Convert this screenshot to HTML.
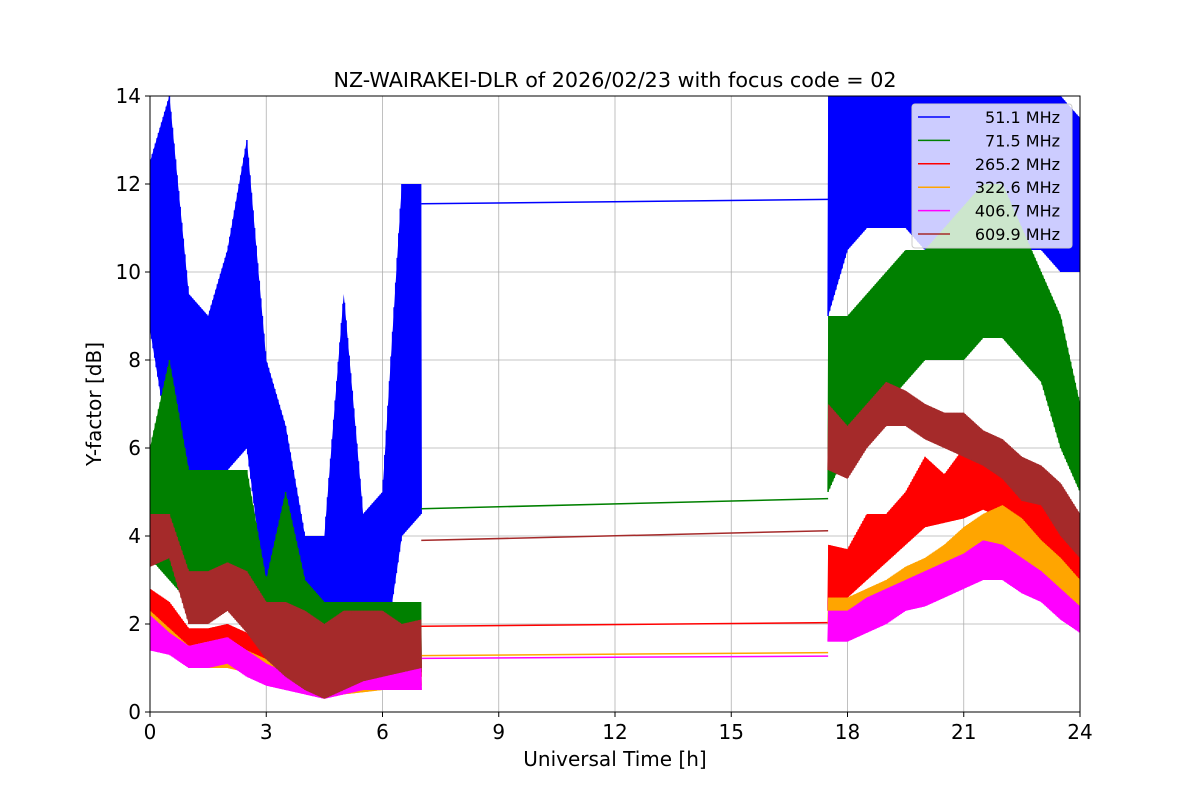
<!DOCTYPE html>
<html><head><meta charset="utf-8"><style>
body{margin:0;background:#fff;}
svg text{font-family:"DejaVu Sans","Liberation Sans",sans-serif;}
</style></head><body>
<svg id="chart" width="1200" height="800">
<defs><clipPath id="plotclip"><rect x="150" y="96" width="930" height="616"/></clipPath></defs>
<rect x="0" y="0" width="1200" height="800" fill="#fff"/>
<text x="615" y="87" text-anchor="middle" font-size="20.7">NZ-WAIRAKEI-DLR of 2026/02/23 with focus code = 02</text>
<g id="grid"></g>
<g id="series" clip-path="url(#plotclip)"></g>
<rect x="150" y="96" width="930" height="616" fill="none" stroke="#000" stroke-width="1"/>
<g id="axes"></g>
<text x="615" y="766" text-anchor="middle" font-size="20">Universal Time [h]</text>
<text transform="translate(101,404) rotate(-90)" text-anchor="middle" font-size="20">Y-factor [dB]</text>
<g id="legend"></g>
</svg>
<script>
const xTicks=[0,3,6,9,12,15,18,21,24];
const yTicks=[0,2,4,6,8,10,12,14];
const seriesNames=["51.1 MHz","71.5 MHz","265.2 MHz","322.6 MHz","406.7 MHz","609.9 MHz"];
const seriesColors=["blue","green","red","orange","magenta","brown"];
const seg1Times=[0,0.5,1,1.5,2,2.5,3,3.5,4,4.5,5,5.5,6,6.5,7];
const seg2Times=[17.5,18,18.5,19,19.5,20,20.5,21,21.5,22,22.5,23,23.5,24];
const blueLo1=[8.7,6,4.5,5,5.5,6,2.5,1.5,1,0.5,0.6,1,1,4,4.5];
const blueHi1=[12.5,14,9.5,9,10.5,13,8,6.5,4,4,9.5,4.5,5,12,12];
const blueLo2=[9,10.5,11,11,11,10.5,11,11,10.5,11,10.5,10.5,10,10];
const blueHi2=[14,14,14,14,14,14,14,14,14,14,14,14,14,13.5];
const greenLo1=[3.5,3,2.5,2.5,2.5,3,1.5,1,1,0.5,0.5,0.7,0.7,0.8,0.9];
const greenHi1=[6,8,5.5,5.5,5.5,5.5,3,5,3,2.5,2.5,2.5,2.5,2.5,2.5];
const greenLo2=[5,6,6.5,7,7.5,8,8,8,8.5,8.5,8,7.5,6,5];
const greenHi2=[9,9,9.5,10,10.5,10.5,11,11.5,12,12,11,10,9,7];
const redLo1=[2,1.6,1.3,1.3,1.4,1.2,0.9,0.8,0.7,0.6,0.6,0.6,0.7,0.7,0.8];
const redHi1=[2.8,2.5,1.9,1.9,2,1.8,1.5,1.4,1.3,1.2,1.2,1.2,1.3,1.3,1.4];
const redLo2=[2.3,2.6,3,3.4,3.8,4.2,4.3,4.4,4.6,4.4,4.1,3.8,3.2,2.5];
const redHi2=[3.8,3.7,4.5,4.5,5,5.8,5.4,6,6.2,5.8,5.5,5,4.5,3.5];
const orangeLo1=[1.6,1.3,1.1,1,1,0.9,0.7,0.6,0.5,0.4,0.4,0.45,0.5,0.55,0.6];
const orangeHi1=[2.3,1.9,1.5,1.6,1.6,1.4,1.2,1.1,1,0.9,0.9,0.95,1,1.05,1.1];
const orangeLo2=[2,2,2.2,2.4,2.6,2.8,3,3.3,3.5,3.6,3.4,3,2.7,2.4];
const orangeHi2=[2.6,2.6,2.8,3,3.3,3.5,3.8,4.2,4.5,4.7,4.4,3.9,3.5,3];
const magentaLo1=[1.4,1.3,1,1,1.1,0.8,0.6,0.5,0.4,0.3,0.4,0.5,0.5,0.5,0.5];
const magentaHi1=[2.2,1.8,1.5,1.6,1.7,1.4,1.1,0.9,0.9,0.8,0.9,0.9,1,1,1.2];
const magentaLo2=[1.6,1.6,1.8,2,2.3,2.4,2.6,2.8,3,3,2.7,2.5,2.1,1.8];
const magentaHi2=[2.3,2.3,2.6,2.8,3,3.2,3.4,3.6,3.9,3.8,3.5,3.2,2.8,2.4];
const brownLo1=[3.3,3.5,2,2,2.3,1.8,1.2,0.8,0.5,0.3,0.5,0.7,0.8,0.9,1];
const brownHi1=[4.5,4.5,3.2,3.2,3.4,3.2,2.5,2.5,2.3,2,2.3,2.3,2.3,2,2.1];
const brownLo2=[5.5,5.3,6,6.5,6.5,6.2,6,5.8,5.6,5.3,4.8,4.7,4,3.5];
const brownHi2=[7,6.5,7,7.5,7.3,7,6.8,6.8,6.4,6.2,5.8,5.6,5.2,4.5];
const gapStart=[11.55,4.62,1.95,1.28,1.22,3.9];
const gapEnd=[11.65,4.85,2.03,1.35,1.27,4.12];

const NS="http://www.w3.org/2000/svg";
const X0=150,X1=1080,Y0=712,Y1=96;
const xs=t=>X0+(t/24)*(X1-X0);
const ys=v=>Y0-(v/14)*(Y0-Y1);
function mk(tag,attrs,parent){const e=document.createElementNS(NS,tag);for(const k in attrs)e.setAttribute(k,attrs[k]);parent.appendChild(e);return e;}
const grid=document.getElementById('grid'),axes=document.getElementById('axes'),ser=document.getElementById('series'),leg=document.getElementById('legend');
xTicks.forEach(t=>{
  const g=mk('line',{x1:xs(t),x2:xs(t),y1:Y1,y2:Y0,stroke:'#b0b0b0','stroke-width':0.8},grid);
  
  
  mk('line',{x1:xs(t),x2:xs(t),y1:Y0,y2:Y0+5,stroke:'#000'},axes);
  const l=mk('text',{x:xs(t),y:Y0+27,'text-anchor':'middle','font-size':20},axes);
  l.textContent=t;
  
  
});
yTicks.forEach(v=>{
  const g=mk('line',{x1:X0,x2:X1,y1:ys(v),y2:ys(v),stroke:'#b0b0b0','stroke-width':0.8},grid);
  
  
  mk('line',{x1:X0-5,x2:X0,y1:ys(v),y2:ys(v),stroke:'#000'},axes);
  const l=mk('text',{x:X0-9,y:ys(v)+7,'text-anchor':'end','font-size':20},axes);
  l.textContent=v;
  
  
});
const lows1=[blueLo1,greenLo1,redLo1,orangeLo1,magentaLo1,brownLo1];
const highs1=[blueHi1,greenHi1,redHi1,orangeHi1,magentaHi1,brownHi1];
const lows2=[blueLo2,greenLo2,redLo2,orangeLo2,magentaLo2,brownLo2];
const highs2=[blueHi2,greenHi2,redHi2,orangeHi2,magentaHi2,brownHi2];
function interp(ts,vals,t){for(let i=0;i<ts.length-1;i++){if(t<=ts[i+1]){const f=(t-ts[i])/(ts[i+1]-ts[i]);return vals[i]+f*(vals[i+1]-vals[i]);}}return vals[vals.length-1];}
function zig(ts,lo,hi){let d='';const dt=0.02;let k=0;for(let t=ts[0];t<=ts[ts.length-1]+1e-9;t+=dt,k++){const v=(k%2?interp(ts,hi,t):interp(ts,lo,t));d+=(k?'L':'M')+xs(t).toFixed(1)+','+ys(v).toFixed(1);}return d;}
function band(ts,lo,hi){let d='';ts.forEach((t,i)=>{d+=(i?'L':'M')+xs(t)+','+ys(hi[i]);});for(let i=ts.length-1;i>=0;i--)d+='L'+xs(ts[i])+','+ys(lo[i]);return d+'Z';}
seriesNames.forEach((n,i)=>{
  const g=mk('g',{},ser);
  
  
  const c=seriesColors[i];
  mk('path',{d:band(seg1Times,lows1[i],highs1[i]),fill:c},g);
  mk('path',{d:band(seg2Times,lows2[i],highs2[i]),fill:c},g);
  mk('path',{d:zig(seg1Times,lows1[i],highs1[i]),fill:'none',stroke:c,'stroke-width':1.5},g);
  mk('path',{d:zig(seg2Times,lows2[i],highs2[i]),fill:'none',stroke:c,'stroke-width':1.5},g);
  const gl=mk('line',{x1:xs(7),y1:ys(gapStart[i]),x2:xs(17.5),y2:ys(gapEnd[i]),stroke:c,'stroke-width':1.5},g);
  
  
});
const box=mk('rect',{x:912,y:104,width:160,height:144,rx:3,fill:'#fff','fill-opacity':0.8,stroke:'#ccc'},leg);


seriesNames.forEach((n,i)=>{
  const y=117+i*23.4;
  const e=mk('g',{},leg);
  
  
  mk('line',{x1:918,x2:950,y1:y,y2:y,stroke:seriesColors[i],'stroke-width':1.5},e);
  const t=mk('text',{x:1060,y:y+6,'text-anchor':'end','font-size':16},e);
  t.textContent=n;
});
</script>
</body></html>
